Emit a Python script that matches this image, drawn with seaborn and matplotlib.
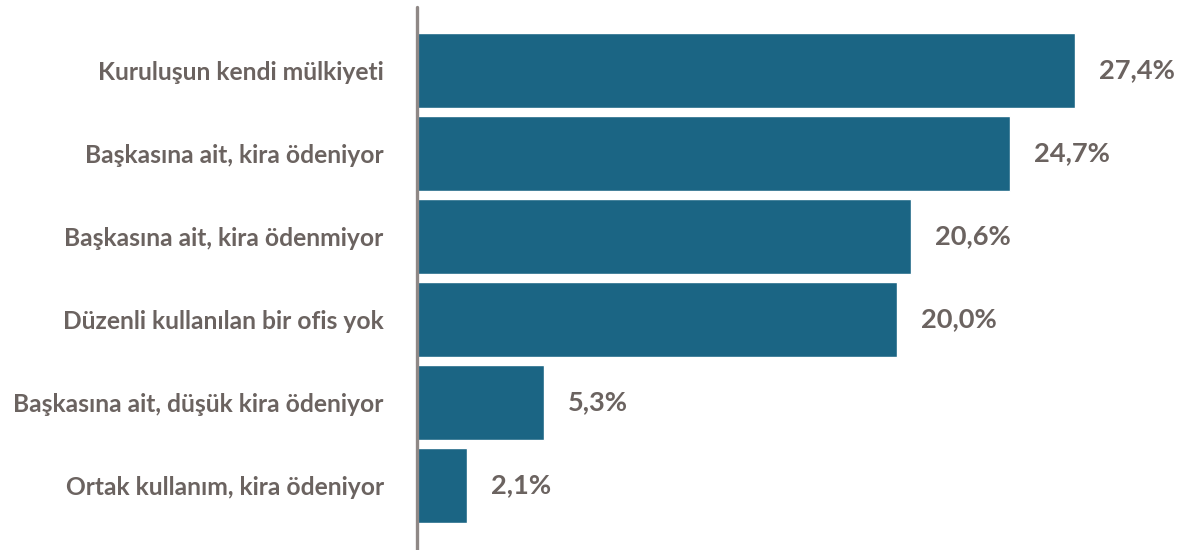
import matplotlib
matplotlib.use("Agg")
import matplotlib.pyplot as plt
import seaborn as sns
import pandas as pd

categories = [
    "Kuruluşun kendi mülkiyeti",
    "Başkasına ait, kira ödeniyor",
    "Başkasına ait, kira ödenmiyor",
    "Düzenli kullanılan bir ofis yok",
    "Başkasına ait, düşük kira ödeniyor",
    "Ortak kullanım, kira ödeniyor",
]
values = [27.4, 24.7, 20.6, 20.0, 5.3, 2.1]
value_labels = ["27,4%", "24,7%", "20,6%", "20,0%", "5,3%", "2,1%"]

bar_color = "#1b6584"
text_color = "#6b6360"
axis_color = "#8f8886"

sns.set_theme(style="white")
plt.rcParams["font.family"] = ["Lato", "DejaVu Sans"]

df = pd.DataFrame({"kategori": categories, "oran": values})

fig = plt.figure(figsize=(11.84, 5.5), dpi=100)
ax = fig.add_axes([0.3522, 0.0, 0.6081, 0.9873])

sns.barplot(data=df, x="oran", y="kategori", orient="h", color=bar_color,
            saturation=1, width=0.9, ax=ax)

ax.set_xlim(0, 30)
ax.set_ylim(5.777, -0.765)

for i, (v, lab) in enumerate(zip(values, value_labels)):
    ax.text(v + 1.0, i, lab, va="center", ha="left", fontsize=19.6,
            fontweight="bold", color=text_color)

ax.set_xlabel("")
ax.set_ylabel("")
ax.set_xticks([])
ax.tick_params(axis="y", length=0, pad=24)
for t in ax.get_yticklabels():
    t.set_fontsize(17.7)
    t.set_fontweight("bold")
    t.set_color(text_color)

for s in ["top", "right", "bottom"]:
    ax.spines[s].set_visible(False)
ax.spines["left"].set_color(axis_color)
ax.spines["left"].set_linewidth(2.4)
ax.spines["left"].set_capstyle("round")

fig.savefig("out.png", dpi=100)
